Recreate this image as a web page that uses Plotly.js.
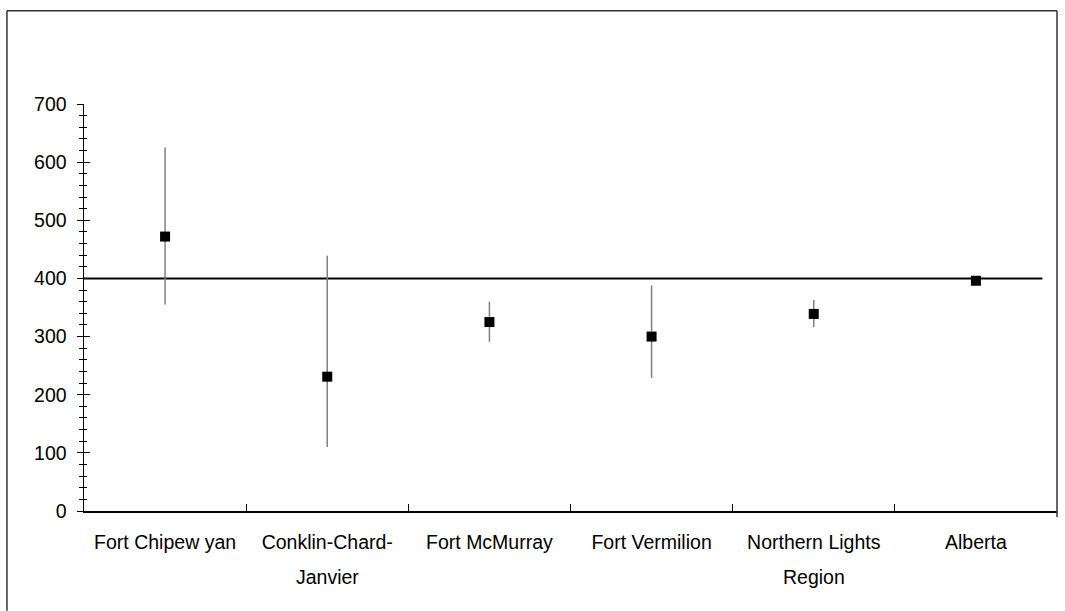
<!DOCTYPE html>
<html>
<head>
<meta charset="utf-8">
<script src="https://cdn.plot.ly/plotly-3.0.1.min.js"></script>
<style>html,body{margin:0;padding:0;background:#fff;}</style>
</head>
<body>
<div id="chart" style="width:1065px;height:611px;"></div>
<script>
// Data
var categories = ["Fort Chipewyan", "Conklin-Chard-Janvier", "Fort McMurray", "Fort Vermilion", "Northern Lights Region", "Alberta"];
var labelLine1 = ["Fort Chipew yan", "Conklin-Chard-", "Fort McMurray", "Fort Vermilion", "Northern Lights", "Alberta"];
var labelLine2 = ["", "Janvier", "", "", "Region", ""];
var rateValues = [472, 231, 325, 300, 339, 396];
var upperLimits = [625, 439, 360, 388, 363, 396];
var lowerLimits = [355, 110, 291, 229, 316, 396];
var referenceValue = 400;
var yRange = [0, 700];
var yMajorStep = 100;
var yMinorStep = 20;

var errPlus = upperLimits.map(function(u, i){ return u - rateValues[i]; });
var errMinus = lowerLimits.map(function(l, i){ return rateValues[i] - l; });

var trace = {
  type: "scatter",
  mode: "markers",
  x: categories,
  y: rateValues,
  marker: {symbol: "square", size: 10, color: "#000000"},
  error_y: {
    type: "data", symmetric: false,
    array: errPlus, arrayminus: errMinus,
    color: "#808080", thickness: 1.5, width: 0
  },
  showlegend: false,
  hoverinfo: "x+y"
};

var fontFam = "'Liberation Sans', Arial, sans-serif";
var fs = 19.5;

var annotations = [];
categories.forEach(function(c, i){
  if (labelLine2[i]) {
    annotations.push({
      xref: "x", yref: "paper", x: c, y: -0.162,
      text: labelLine2[i], showarrow: false,
      xanchor: "center", yanchor: "middle",
      font: {family: fontFam, size: fs, color: "#000"}
    });
  }
});

var layout = {
  width: 1065, height: 611,
  margin: {l: 84, r: 8, t: 104, b: 100, pad: 0},
  paper_bgcolor: "#ffffff",
  plot_bgcolor: "#ffffff",
  font: {family: fontFam, size: fs, color: "#000"},
  xaxis: {
    type: "category",
    categoryorder: "array", categoryarray: categories,
    range: [-0.5, 5.5],
    tickmode: "array", tickvals: categories, ticktext: labelLine1,
    tickson: "boundaries",
    ticks: "inside", ticklen: 7, tickcolor: "#000", tickwidth: 1,
    showline: true, linecolor: "#000", linewidth: 1.5,
    showgrid: false, zeroline: false,
    tickfont: {family: fontFam, size: fs, color: "#000"},
    ticklabelstandoff: 13,
    fixedrange: true
  },
  yaxis: {
    range: yRange,
    tickmode: "linear", tick0: 0, dtick: yMajorStep,
    ticks: "outside", ticklen: 6, tickcolor: "#000", tickwidth: 1,
    minor: {dtick: yMinorStep, ticks: "outside", ticklen: 4, tickcolor: "#000", tickwidth: 1, showgrid: false},
    showline: true, linecolor: "#000", linewidth: 1.5,
    showgrid: false, zeroline: false,
    tickfont: {family: fontFam, size: fs, color: "#000"},
    ticklabelstandoff: 6,
    fixedrange: true
  },
  yaxis2: {
    range: yRange, overlaying: "y", side: "left", anchor: "x",
    tickmode: "linear", tick0: 0, dtick: yMajorStep,
    ticks: "inside", ticklen: 6, tickcolor: "#000", tickwidth: 1,
    minor: {dtick: yMinorStep, ticks: "inside", ticklen: 3, tickcolor: "#000", tickwidth: 1, showgrid: false},
    showticklabels: false, showline: false, showgrid: false, zeroline: false,
    fixedrange: true
  },
  shapes: [
    {type: "line", xref: "paper", yref: "y", x0: 0, x1: 0.985, y0: referenceValue, y1: referenceValue,
     line: {color: "#000", width: 2}, layer: "below"},
    // outer chart frame
    {type: "line", xref: "paper", yref: "paper", x0: -0.0792, x1: -0.0792, y0: 1.229, y1: -0.245,
     line: {color: "#333", width: 1.5}},
    {type: "line", xref: "paper", yref: "paper", x0: -0.0792, x1: 1.0, y0: 1.229, y1: 1.229,
     line: {color: "#333", width: 1.5}},
    {type: "line", xref: "paper", yref: "paper", x0: 1.0, x1: 1.0, y0: 1.229, y1: -0.015,
     line: {color: "#333", width: 1.5}}
  ],
  annotations: annotations
};

var axisCarrier = {type: "scatter", mode: "markers", x: [categories[0]], y: [yRange[0]], yaxis: "y2",
  marker: {opacity: 0, size: 1}, showlegend: false, hoverinfo: "skip"};

Plotly.newPlot("chart", [trace, axisCarrier], layout, {displayModeBar: false, staticPlot: true});
</script>
</body>
</html>
